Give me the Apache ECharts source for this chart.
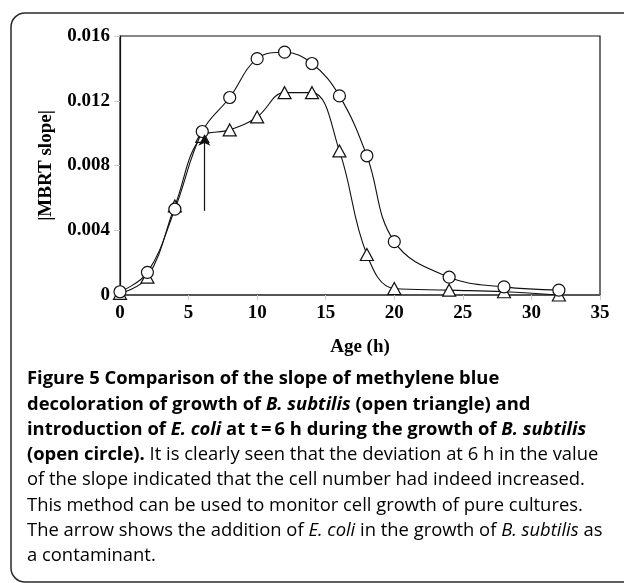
<!DOCTYPE html>
<html>
<head>
<meta charset="utf-8">
<script src="https://cdn.jsdelivr.net/npm/echarts@6/dist/echarts.min.js"></script>
<style>
html,body{margin:0;padding:0;background:#fff;}
#c{width:624px;height:583px;}
</style>
</head>
<body>
<div id="c"></div>
<script>
// Age (h)
const ages = [0, 2, 4, 6, 8, 10, 12, 14, 16, 18, 20, 24, 28, 32];
// B. subtilis (open triangle)
const bSubtilis = [0.0001, 0.0011, 0.0055, 0.0098, 0.0102, 0.0110, 0.0125, 0.0125, 0.0089, 0.0025, 0.0004, 0.0003, 0.0002, 0.0000];
// B. subtilis + E. coli introduced at t = 6 h (open circle)
const withEcoli = [0.0002, 0.0014, 0.0053, 0.0101, 0.0122, 0.0146, 0.0150, 0.0143, 0.0123, 0.0086, 0.0033, 0.0011, 0.0005, 0.0003];
// arrow marking the addition of E. coli: [age, from value, to value]
const arrowAge = 6.15;
const arrowFrom = 0.0052;
const arrowTo = 0.0099;
// tick labels
const xTicks = [0, 5, 10, 15, 20, 25, 30, 35];
const yTickLabels = ['0', '0.004', '0.008', '0.012', '0.016'];

const chart = echarts.init(document.getElementById('c'), null, {renderer: 'canvas'});

const serif = '"Liberation Serif", "Times New Roman", serif';
const sans = '"Open Sans", "Noto Sans", sans-serif';
const capSize = 18.4;

const rich = {
  b: {fontFamily: sans, fontWeight: 'bold', fontSize: capSize, color: '#1a1a1a'},
  bi: {fontFamily: sans, fontWeight: 'bold', fontStyle: 'italic', fontSize: capSize, color: '#1a1a1a'},
  r: {fontFamily: sans, fontWeight: 'normal', fontSize: capSize, color: '#4a4a4a'},
  i: {fontFamily: sans, fontWeight: 'normal', fontStyle: 'italic', fontSize: capSize, color: '#4a4a4a'}
};

const captionLines = [
  '{b|Figure 5 }{b|Comparison of the slope of methylene blue}',
  '{b|decoloration of growth of }{bi|B. subtilis}{b| (open triangle) and}',
  '{b|introduction of }{bi|E. coli}{b| at t\u2009=\u20096 h during the growth of }{bi|B. subtilis}',
  '{b|(open circle).}{r| It is clearly seen that the deviation at 6 h in the value}',
  '{r|of the slope indicated that the cell number had indeed increased.}',
  '{r|This method can be used to monitor cell growth of pure cultures.}',
  '{r|The arrow shows the addition of }{i|E. coli}{r| in the growth of }{i|B. subtilis}{r| as}',
  '{r|a contaminant.}'
];
const capTop = 379, capStep = 25.3, capLeft = 27;

const graphics = [{
  type: 'rect',
  shape: {x: 11, y: 13, width: 660, height: 569, r: 14},
  style: {fill: 'none', stroke: '#2a2a2a', lineWidth: 1.5},
  silent: true
}];
captionLines.forEach((t, k) => {
  graphics.push({
    type: 'text',
    x: capLeft,
    y: capTop + k * capStep,
    style: {text: t, rich: rich, verticalAlign: 'middle', align: 'left'}
  });
});

const labelStyle = {fontFamily: serif, fontWeight: 'bold', fontSize: 19, color: '#000'};

chart.setOption({
  animation: false,
  backgroundColor: '#fff',
  grid: {left: 120, right: 24, top: 36, bottom: 288, show: true, borderColor: '#111', borderWidth: 1.2, containLabel: false},
  xAxis: {
    type: 'value', min: 0, max: 35, interval: 5,
    name: 'Age (h)', nameLocation: 'middle', nameGap: 43,
    nameTextStyle: labelStyle,
    axisLine: {show: true, lineStyle: {color: '#555', width: 2}},
    axisTick: {show: true, inside: false, length: 5, lineStyle: {color: '#ccc'}},
    axisLabel: {margin: 9, ...labelStyle, formatter: v => xTicks.includes(v) ? String(v) : ''},
    splitLine: {show: false}
  },
  yAxis: {
    type: 'value', min: 0, max: 0.016, interval: 0.004,
    name: '|MBRT slope|', nameLocation: 'middle', nameGap: 64, nameRotate: 90,
    nameTextStyle: labelStyle,
    axisLine: {show: true, lineStyle: {color: '#111', width: 1.2}},
    axisTick: {show: true, inside: false, length: 6, lineStyle: {color: '#ccc'}},
    axisLabel: {margin: 10, ...labelStyle, formatter: (v, i) => yTickLabels[Math.round(v / 0.004)]},
    splitLine: {show: false}
  },
  series: [
    {
      name: 'B. subtilis', type: 'line', smooth: 0.4,
      data: ages.map((a, k) => [a, bSubtilis[k]]),
      symbol: 'triangle', symbolSize: [13, 12],
      lineStyle: {color: '#111', width: 1.1},
      itemStyle: {color: '#fff', borderColor: '#111', borderWidth: 1.2},
      z: 2,
      markLine: {
        silent: true,
        symbol: ['none', 'arrow'], symbolSize: [9, 11],
        label: {show: false},
        lineStyle: {color: '#111', width: 1.2, type: 'solid'},
        itemStyle: {color: '#111'},
        data: [[{coord: [arrowAge, arrowFrom]}, {coord: [arrowAge, arrowTo]}]]
      }
    },
    {
      name: 'B. subtilis + E. coli', type: 'line', smooth: 0.4,
      data: ages.map((a, k) => [a, withEcoli[k]]),
      symbol: 'circle', symbolSize: 12,
      lineStyle: {color: '#111', width: 1.1},
      itemStyle: {color: '#fff', borderColor: '#111', borderWidth: 1.2},
      z: 3
    }
  ],
  graphic: graphics
});
</script>
</body>
</html>
